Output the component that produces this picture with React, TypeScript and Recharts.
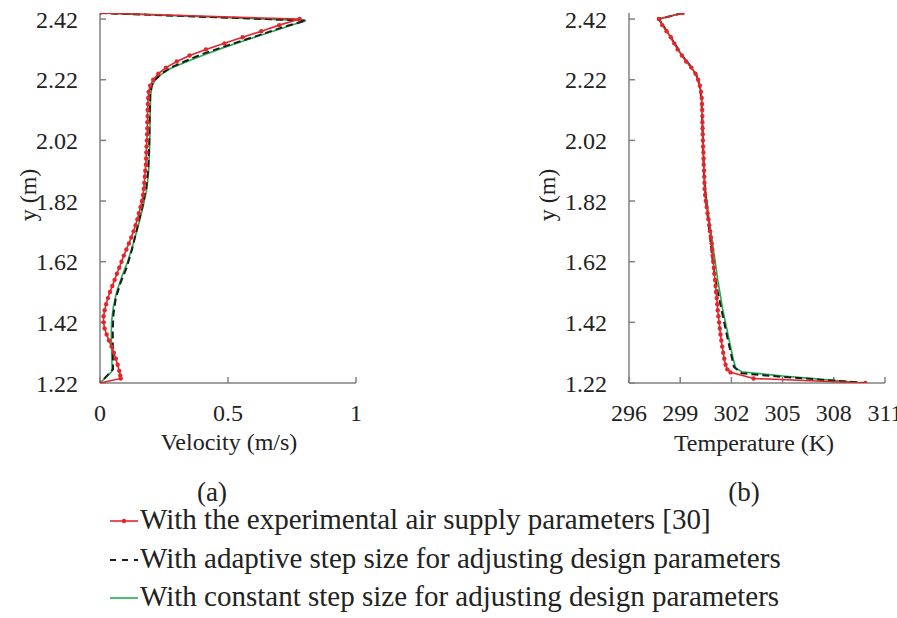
import React from "react";
import { Scatter, ScatterChart, XAxis, YAxis } from "recharts";

const FONT = "Liberation Serif, DejaVu Serif, Times New Roman, serif";
const RED = "#e3262b";
const BLACK = "#1c1c1c";
const GREEN = "#1fae4f";
const AXIS = "#808080";

const yTicks = [1.22, 1.42, 1.62, 1.82, 2.02, 2.22, 2.42];
const velocityTicks = [0, 0.5, 1];
const temperatureTicks = [296, 299, 302, 305, 308, 311];

const legendLabels = [
  "With the experimental air supply parameters [30]",
  "With adaptive step size for adjusting design parameters",
  "With constant step size for adjusting design parameters",
];

// (a) velocity profiles, top to bottom
const velocityExperimental = [
  { v: 0, y: 2.44 }, { v: 0.78, y: 2.42 }, { v: 0.7, y: 2.4 }, { v: 0.63, y: 2.38 },
  { v: 0.557, y: 2.36 }, { v: 0.486, y: 2.34 }, { v: 0.414, y: 2.32 }, { v: 0.35, y: 2.3 },
  { v: 0.3, y: 2.28 }, { v: 0.258, y: 2.26 }, { v: 0.228, y: 2.24 }, { v: 0.208, y: 2.22 },
  { v: 0.196, y: 2.2 }, { v: 0.19, y: 2.18 }, { v: 0.188, y: 2.16 }, { v: 0.187, y: 2.14 },
  { v: 0.186, y: 2.12 }, { v: 0.186, y: 2.1 }, { v: 0.185, y: 2.08 }, { v: 0.185, y: 2.06 },
  { v: 0.184, y: 2.04 }, { v: 0.183, y: 2.02 }, { v: 0.182, y: 2.0 }, { v: 0.181, y: 1.98 },
  { v: 0.18, y: 1.96 }, { v: 0.179, y: 1.94 }, { v: 0.177, y: 1.92 }, { v: 0.175, y: 1.9 },
  { v: 0.173, y: 1.88 }, { v: 0.171, y: 1.86 }, { v: 0.168, y: 1.84 }, { v: 0.164, y: 1.82 },
  { v: 0.158, y: 1.8 }, { v: 0.152, y: 1.78 }, { v: 0.146, y: 1.76 }, { v: 0.139, y: 1.74 },
  { v: 0.131, y: 1.72 }, { v: 0.122, y: 1.7 }, { v: 0.113, y: 1.68 }, { v: 0.103, y: 1.66 },
  { v: 0.093, y: 1.64 }, { v: 0.084, y: 1.62 }, { v: 0.075, y: 1.6 }, { v: 0.066, y: 1.58 },
  { v: 0.057, y: 1.56 }, { v: 0.048, y: 1.54 }, { v: 0.039, y: 1.52 }, { v: 0.031, y: 1.5 },
  { v: 0.024, y: 1.48 }, { v: 0.018, y: 1.46 }, { v: 0.014, y: 1.44 }, { v: 0.014, y: 1.42 },
  { v: 0.018, y: 1.4 }, { v: 0.026, y: 1.38 }, { v: 0.035, y: 1.36 }, { v: 0.045, y: 1.34 },
  { v: 0.054, y: 1.32 }, { v: 0.062, y: 1.3 }, { v: 0.069, y: 1.28 }, { v: 0.075, y: 1.26 },
  { v: 0.079, y: 1.245 }, { v: 0.081, y: 1.235 }, { v: 0, y: 1.22 },
];

const velocityAdaptive = [
  { v: 0, y: 2.44 }, { v: 0.805, y: 2.415 }, { v: 0.72, y: 2.395 }, { v: 0.64, y: 2.372 },
  { v: 0.56, y: 2.35 }, { v: 0.48, y: 2.328 }, { v: 0.4, y: 2.305 }, { v: 0.33, y: 2.28 },
  { v: 0.275, y: 2.26 }, { v: 0.24, y: 2.24 }, { v: 0.215, y: 2.22 }, { v: 0.202, y: 2.2 },
  { v: 0.196, y: 2.17 }, { v: 0.194, y: 2.1 }, { v: 0.192, y: 2.0 }, { v: 0.188, y: 1.92 },
  { v: 0.18, y: 1.86 }, { v: 0.165, y: 1.8 }, { v: 0.145, y: 1.73 }, { v: 0.125, y: 1.66 },
  { v: 0.104, y: 1.6 }, { v: 0.08, y: 1.55 }, { v: 0.062, y: 1.5 }, { v: 0.053, y: 1.45 },
  { v: 0.05, y: 1.4 }, { v: 0.05, y: 1.33 }, { v: 0.051, y: 1.265 }, { v: 0, y: 1.22 },
];

const velocityConstant = [
  { v: 0, y: 2.44 }, { v: 0.805, y: 2.415 }, { v: 0.72, y: 2.392 }, { v: 0.64, y: 2.37 },
  { v: 0.56, y: 2.348 }, { v: 0.48, y: 2.325 }, { v: 0.4, y: 2.3 }, { v: 0.33, y: 2.277 },
  { v: 0.275, y: 2.257 }, { v: 0.24, y: 2.238 }, { v: 0.215, y: 2.218 }, { v: 0.203, y: 2.2 },
  { v: 0.198, y: 2.17 }, { v: 0.196, y: 2.1 }, { v: 0.194, y: 2.0 }, { v: 0.19, y: 1.92 },
  { v: 0.183, y: 1.86 }, { v: 0.168, y: 1.8 }, { v: 0.15, y: 1.74 }, { v: 0.13, y: 1.68 },
  { v: 0.108, y: 1.62 }, { v: 0.085, y: 1.57 }, { v: 0.065, y: 1.52 }, { v: 0.052, y: 1.47 },
  { v: 0.045, y: 1.42 }, { v: 0.044, y: 1.37 }, { v: 0.046, y: 1.32 }, { v: 0.047, y: 1.27 },
  { v: 0.045, y: 1.257 }, { v: 0, y: 1.22 },
];

// (b) temperature profiles, top to bottom
const temperatureExperimental = [
  { t: 299.15, y: 2.44 }, { t: 297.75, y: 2.42 }, { t: 297.95, y: 2.4 }, { t: 298.2, y: 2.38 },
  { t: 298.45, y: 2.36 }, { t: 298.65, y: 2.34 }, { t: 298.85, y: 2.32 }, { t: 299.1, y: 2.3 },
  { t: 299.35, y: 2.28 }, { t: 299.65, y: 2.26 }, { t: 299.9, y: 2.24 }, { t: 300.05, y: 2.22 },
  { t: 300.15, y: 2.2 }, { t: 300.22, y: 2.18 }, { t: 300.26, y: 2.16 }, { t: 300.28, y: 2.14 },
  { t: 300.29, y: 2.12 }, { t: 300.3, y: 2.1 }, { t: 300.3, y: 2.08 }, { t: 300.31, y: 2.06 },
  { t: 300.32, y: 2.04 }, { t: 300.33, y: 2.02 }, { t: 300.34, y: 2.0 }, { t: 300.36, y: 1.98 },
  { t: 300.37, y: 1.96 }, { t: 300.38, y: 1.94 }, { t: 300.4, y: 1.92 }, { t: 300.41, y: 1.9 },
  { t: 300.42, y: 1.88 }, { t: 300.43, y: 1.86 }, { t: 300.46, y: 1.84 }, { t: 300.5, y: 1.82 },
  { t: 300.55, y: 1.8 }, { t: 300.6, y: 1.78 }, { t: 300.65, y: 1.76 }, { t: 300.7, y: 1.74 },
  { t: 300.75, y: 1.72 }, { t: 300.8, y: 1.7 }, { t: 300.84, y: 1.68 }, { t: 300.87, y: 1.66 },
  { t: 300.9, y: 1.64 }, { t: 300.94, y: 1.62 }, { t: 300.97, y: 1.6 }, { t: 301.0, y: 1.58 },
  { t: 301.04, y: 1.56 }, { t: 301.07, y: 1.54 }, { t: 301.1, y: 1.52 }, { t: 301.14, y: 1.5 },
  { t: 301.17, y: 1.48 }, { t: 301.2, y: 1.46 }, { t: 301.24, y: 1.44 }, { t: 301.28, y: 1.42 },
  { t: 301.32, y: 1.4 }, { t: 301.36, y: 1.38 }, { t: 301.41, y: 1.36 }, { t: 301.46, y: 1.34 },
  { t: 301.52, y: 1.32 }, { t: 301.58, y: 1.3 }, { t: 301.66, y: 1.28 }, { t: 301.76, y: 1.265 },
  { t: 301.95, y: 1.255 }, { t: 303.3, y: 1.235 }, { t: 309.85, y: 1.22 },
];

const temperatureAdaptive = [
  { t: 299.15, y: 2.44 }, { t: 297.75, y: 2.42 }, { t: 298.45, y: 2.36 }, { t: 299.1, y: 2.3 },
  { t: 299.6, y: 2.265 }, { t: 299.95, y: 2.235 }, { t: 300.15, y: 2.2 }, { t: 300.25, y: 2.15 },
  { t: 300.3, y: 2.08 }, { t: 300.34, y: 2.0 }, { t: 300.4, y: 1.9 }, { t: 300.55, y: 1.8 },
  { t: 300.75, y: 1.7 }, { t: 300.95, y: 1.6 }, { t: 301.2, y: 1.52 }, { t: 301.5, y: 1.44 },
  { t: 301.8, y: 1.36 }, { t: 302.15, y: 1.273 }, { t: 302.6, y: 1.252 }, { t: 305.0, y: 1.24 },
  { t: 307.5, y: 1.23 }, { t: 309.85, y: 1.22 },
];

const temperatureConstant = [
  { t: 299.15, y: 2.44 }, { t: 297.75, y: 2.42 }, { t: 298.45, y: 2.36 }, { t: 299.1, y: 2.3 },
  { t: 299.6, y: 2.265 }, { t: 299.95, y: 2.235 }, { t: 300.15, y: 2.2 }, { t: 300.25, y: 2.15 },
  { t: 300.3, y: 2.08 }, { t: 300.34, y: 2.0 }, { t: 300.42, y: 1.88 }, { t: 300.7, y: 1.76 },
  { t: 300.95, y: 1.66 }, { t: 301.2, y: 1.56 }, { t: 301.5, y: 1.46 }, { t: 301.8, y: 1.38 },
  { t: 302.1, y: 1.3 }, { t: 302.25, y: 1.27 }, { t: 302.6, y: 1.257 }, { t: 305.0, y: 1.243 },
  { t: 307.3, y: 1.232 }, { t: 309.8, y: 1.22 },
];

const tickStyle = { fill: "#222", fontSize: 24, fontFamily: FONT };
const axisLineStyle = { stroke: AXIS, strokeWidth: 1.5 };

const NoMarker = () => <g />;
const RedDot = (props: any) => <circle cx={props.cx} cy={props.cy} r={2.2} fill={RED} />;

function Panel({ left, xKey, domain, ticks, series }: {
  left: number;
  xKey: string;
  domain: [number, number];
  ticks: number[];
  series: { experimental: any[]; adaptive: any[]; constant: any[] };
}) {
  return (
    <div style={{ position: "absolute", left, top: 0 }}>
      <ScatterChart width={420} height={470} margin={{ top: 13, right: 64, bottom: 0, left: 0 }}>
        <XAxis
          type="number"
          dataKey={xKey}
          domain={domain}
          ticks={ticks}
          interval={0}
          height={87}
          tickSize={-6}
          tickMargin={27}
          stroke={AXIS}
          axisLine={axisLineStyle}
          tickLine={axisLineStyle}
          tick={tickStyle}
          allowDataOverflow
        />
        <YAxis
          type="number"
          dataKey="y"
          domain={[1.22, 2.44]}
          ticks={yTicks}
          interval={0}
          width={100}
          tickSize={-6}
          tickMargin={28}
          stroke={AXIS}
          axisLine={axisLineStyle}
          tickLine={axisLineStyle}
          tick={tickStyle}
          allowDataOverflow
        />
        <Scatter data={series.constant} fill={GREEN} line={{ stroke: GREEN, strokeWidth: 1.6 }} lineType="joint" shape={NoMarker} isAnimationActive={false} />
        <Scatter data={series.adaptive} fill={BLACK} line={{ stroke: BLACK, strokeWidth: 2, strokeDasharray: "7 4" }} lineType="joint" shape={NoMarker} isAnimationActive={false} />
        <Scatter data={series.experimental} fill={RED} line={{ stroke: RED, strokeWidth: 1.6 }} lineType="joint" shape={RedDot} isAnimationActive={false} />
      </ScatterChart>
    </div>
  );
}

export default function App() {
  const legendBaselines = [529, 568, 606];
  return (
    <div style={{ position: "absolute", left: 0, top: 0, width: 897, height: 618, background: "#fff", overflow: "hidden", fontFamily: FONT }}>
      <Panel
        left={0}
        xKey="v"
        domain={[0, 1]}
        ticks={velocityTicks}
        series={{ experimental: velocityExperimental, adaptive: velocityAdaptive, constant: velocityConstant }}
      />
      <Panel
        left={529}
        xKey="t"
        domain={[296, 311]}
        ticks={temperatureTicks}
        series={{ experimental: temperatureExperimental, adaptive: temperatureAdaptive, constant: temperatureConstant }}
      />
      <svg width={897} height={618} style={{ position: "absolute", left: 0, top: 0, pointerEvents: "none", fontFamily: FONT }} fill="#222">
        <text x={28} y={195} fontSize={24} textAnchor="middle" dominantBaseline="central" transform="rotate(-90 28 195)">y (m)</text>
        <text x={547} y={195} fontSize={24} textAnchor="middle" dominantBaseline="central" transform="rotate(-90 547 195)">y (m)</text>
        <text x={229} y={450} fontSize={24} textAnchor="middle">Velocity (m/s)</text>
        <text x={754} y={451} fontSize={24} textAnchor="middle">Temperature (K)</text>
        <text x={212} y={501} fontSize={27} textAnchor="middle">(a)</text>
        <text x={744} y={501} fontSize={27} textAnchor="middle">(b)</text>

        <line x1={110} x2={138} y1={legendBaselines[0] - 8} y2={legendBaselines[0] - 8} stroke={RED} strokeWidth={1.6} />
        <circle cx={124} cy={legendBaselines[0] - 8} r={2.2} fill={RED} />
        <line x1={110} x2={138} y1={legendBaselines[1] - 8} y2={legendBaselines[1] - 8} stroke={BLACK} strokeWidth={2} strokeDasharray="6 6" />
        <line x1={110} x2={138} y1={legendBaselines[2] - 8} y2={legendBaselines[2] - 8} stroke={GREEN} strokeWidth={1.6} />
        {legendLabels.map((label, i) => (
          <text key={label} x={140} y={legendBaselines[i]} fontSize={29}>{label}</text>
        ))}
      </svg>
    </div>
  );
}
